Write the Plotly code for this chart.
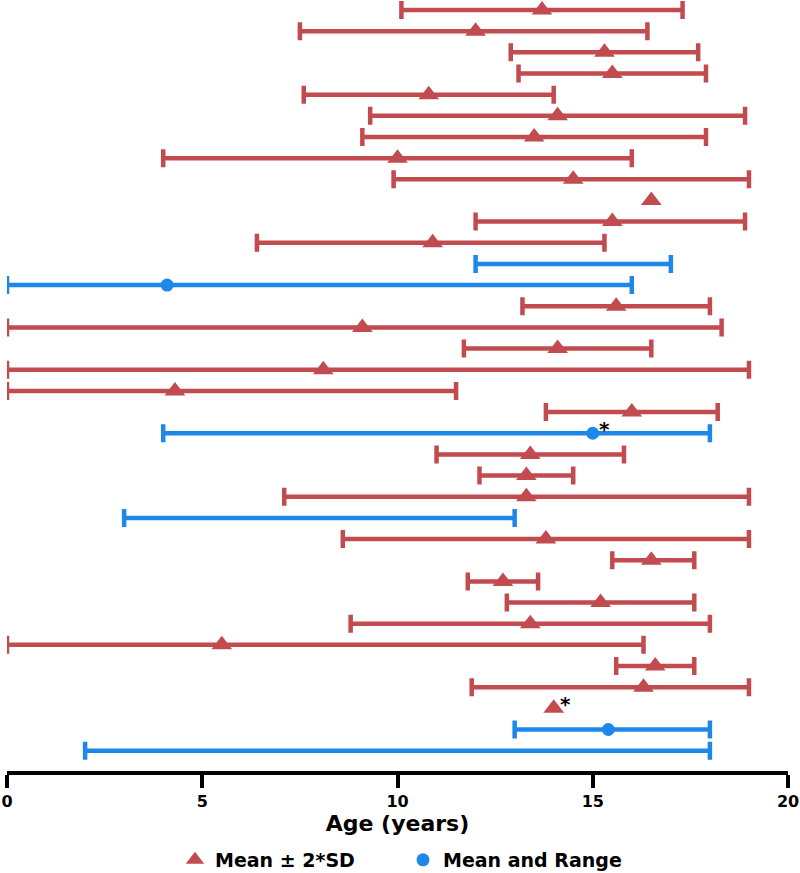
import plotly.graph_objects as go

rows = list(range(1, 37))
# group: "sd" = Mean ± 2*SD (red), "rng" = Mean and Range (blue)
group = ["sd", "sd", "sd", "sd", "sd", "sd", "sd", "sd", "sd", "sd",
         "sd", "sd", "rng", "rng", "sd", "sd", "sd", "sd", "sd", "sd",
         "rng", "sd", "sd", "sd", "rng", "sd", "sd", "sd", "sd", "sd",
         "sd", "sd", "sd", "sd", "rng", "rng"]
low = [10.1, 7.5, 12.9, 13.1, 7.6, 9.3, 9.1, 4.0, 9.9, None,
       12.0, 6.4, 12.0, 0.0, 13.2, 0.0, 11.7, 0.0, 0.0, 13.8,
       4.0, 11.0, 12.1, 7.1, 3.0, 8.6, 15.5, 11.8, 12.8, 8.8,
       0.0, 15.6, 11.9, None, 13.0, 2.0]
high = [17.3, 16.4, 17.7, 17.9, 14.0, 18.9, 17.9, 16.0, 19.0, None,
        18.9, 15.3, 17.0, 16.0, 18.0, 18.3, 16.5, 19.0, 11.5, 18.2,
        18.0, 15.8, 14.5, 19.0, 13.0, 19.0, 17.6, 13.6, 17.6, 18.0,
        16.3, 17.6, 19.0, None, 18.0, 18.0]
mean = [13.7, 12.0, 15.3, 15.5, 10.8, 14.1, 13.5, 10.0, 14.5, 16.5,
        15.5, 10.9, None, 4.1, 15.6, 9.1, 14.1, 8.1, 4.3, 16.0,
        15.0, 13.4, 13.3, 13.3, None, 13.8, 16.5, 12.7, 15.2, 13.4,
        5.5, 16.6, 16.3, 14.0, 15.4, None]
starred = [21, 34]
tick_vals = [0, 5, 10, 15, 20]

RED = "#C24B50"
BLUE = "#1E88E8"
FONT = "DejaVu Sans"
colors = {"sd": RED, "rng": BLUE}
names = {"sd": "<b>Mean ± 2*SD</b>", "rng": "<b>Mean and Range</b>"}
symbols = {"sd": "triangle-up", "rng": "circle"}
sizes = {"sd": 18, "rng": 13}

fig = go.Figure()

for g in ["sd", "rng"]:
    bx, by, be = [], [], []
    for r, gg, lo, hi in zip(rows, group, low, high):
        if gg == g and lo is not None:
            bx.append(lo)
            by.append(r)
            be.append(hi - lo)
    fig.add_trace(go.Scatter(
        x=bx, y=by, mode="markers",
        marker=dict(size=1, opacity=0, color=colors[g]),
        error_x=dict(type="data", symmetric=False, array=be,
                     arrayminus=[0] * len(be), color=colors[g],
                     thickness=4.5, width=9),
        showlegend=False, hoverinfo="skip", cliponaxis=False))

for g in ["sd", "rng"]:
    mx, my = [], []
    for r, gg, m in zip(rows, group, mean):
        if gg == g and m is not None:
            mx.append(m)
            my.append(r)
    fig.add_trace(go.Scatter(
        x=mx, y=my, mode="markers", name=names[g],
        marker=dict(symbol=symbols[g], size=sizes[g], color=colors[g],
                    line=dict(width=0)),
        cliponaxis=False))

for r in starred:
    fig.add_annotation(x=mean[r - 1], y=r, text="<b>*</b>", showarrow=False,
                       xshift=12, yshift=4,
                       font=dict(size=20, color="black", family=FONT))

fig.update_layout(
    width=800, height=873,
    margin=dict(l=7, r=12, t=0, b=102, autoexpand=False),
    plot_bgcolor="white", paper_bgcolor="white",
    font=dict(family=FONT, color="black"),
    showlegend=True,
    legend=dict(orientation="h", x=0.2151, xanchor="left", y=-0.1154,
                yanchor="middle", font=dict(size=19, family=FONT),
                itemsizing="trace", entrywidth=183, entrywidthmode="pixels"),
    xaxis=dict(range=[0, 20], tickvals=tick_vals,
               ticktext=["<b>%d</b>" % v for v in tick_vals],
               showline=True, linecolor="black", linewidth=3.5,
               ticks="outside", ticklen=13, tickwidth=3.5, tickcolor="black",
               tickfont=dict(size=16), showgrid=False, zeroline=False,
               automargin=False, ticklabeloverflow="allow",
               title=dict(text="<b>Age (years)</b>", font=dict(size=22), standoff=1)),
    yaxis=dict(range=[36.96, 0.5275], visible=False, showgrid=False, zeroline=False,
               automargin=False),
)

fig.write_html("out.html", config={"displayModeBar": False},
               post_script="document.body.style.margin='0px';")
